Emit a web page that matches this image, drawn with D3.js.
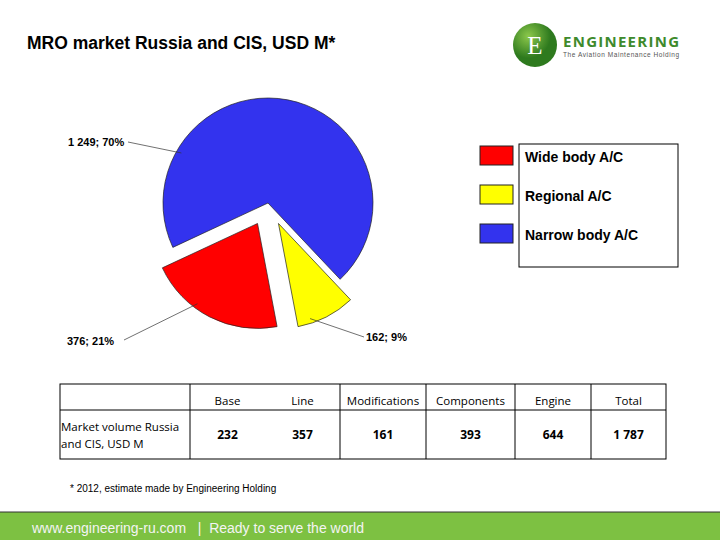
<!DOCTYPE html>
<html><head><meta charset="utf-8">
<script src="https://cdn.jsdelivr.net/npm/d3@7"></script>
<style>body{margin:0;background:#fff}svg{display:block;font-family:"Liberation Sans",Arial,sans-serif}</style>
</head><body><svg id="c" width="720" height="540"></svg>
<script>
const segments = ["Wide body A/C", "Regional A/C", "Narrow body A/C"];
const values = [376, 162, 1249];
const shares = [21, 9, 70];
const colors = ["#ff0000", "#ffff00", "#3333ee"];
const tableHeads = ["Base", "Line", "Modifications", "Components", "Engine", "Total"];
const tableValues = ["232", "357", "161", "393", "644", "1 787"];

const svg = d3.select("#c");

svg.append("text").attr("x", 27).attr("y", 49).attr("font-size", 17.5).attr("font-weight", "bold")
  .text("MRO market Russia and CIS, USD M*");

// logo
const lg = svg.append("g");
const grad = svg.append("defs").append("radialGradient").attr("id", "lg").attr("cx", "35%").attr("cy", "30%");
grad.append("stop").attr("offset", "0").attr("stop-color", "#8cc84b");
grad.append("stop").attr("offset", "1").attr("stop-color", "#2e7a1e");
lg.append("circle").attr("cx", 535).attr("cy", 45).attr("r", 22).attr("fill", "url(#lg)");
lg.append("text").attr("x", 535).attr("y", 54).attr("text-anchor", "middle").attr("fill", "#fff")
  .attr("font-size", 25).attr("font-family", "Liberation Serif").text("E");
lg.append("text").attr("x", 563).attr("y", 47).attr("fill", "#3e8a2c").attr("font-size", 15)
  .attr("font-weight", "bold").attr("font-family", "Open Sans").attr("textLength", 116).text("ENGINEERING");
lg.append("text").attr("x", 563).attr("y", 57).attr("fill", "#555").attr("font-size", 6.5)
  .attr("textLength", 116).text("The Aviation Maintenance Holding");

// pie
const cx = 268, cy = 203, R = 105, off = 23;
const pie = d3.pie().sort(null).value(d => d)
  .startAngle(-115 * Math.PI / 180).endAngle(245 * Math.PI / 180);
const order = [2, 1, 0];
const arcs = pie(order.map(i => values[i]));
const arc = d3.arc().innerRadius(0).outerRadius(R);
arcs.forEach((a, k) => {
  const i = order[k];
  const mid = (a.startAngle + a.endAngle) / 2;
  const d = i === 2 ? 0 : off;
  const ox = cx + Math.sin(mid) * d, oy = cy - Math.cos(mid) * d;
  svg.append("path").attr("d", arc(a)).attr("transform", `translate(${ox},${oy})`)
    .attr("fill", colors[i]).attr("stroke", "#222").attr("stroke-width", 0.7);
});
// labels with leader lines
const labels = [
  {i: 2, ang: -60, lx: 68, ly: 146, tx: 128, ty: 142},
  {i: 0, ang: 215, lx: 67, ly: 345, tx: 124, ty: 340},
  {i: 1, ang: 160, lx: 366, ly: 341, tx: 364, ty: 337}
];
labels.forEach(l => {
  const d = l.i === 2 ? R - 5 : R + off - 5;
  const a = l.ang * Math.PI / 180;
  const ex = cx + Math.sin(a) * d, ey = cy - Math.cos(a) * d;
  svg.append("line").attr("x1", ex).attr("y1", ey).attr("x2", l.tx).attr("y2", l.ty)
    .attr("stroke", "#333").attr("stroke-width", 0.7);
  svg.append("text").attr("x", l.lx).attr("y", l.ly).attr("font-size", 11).attr("font-weight", "bold")
    .text(values[l.i].toLocaleString("ru-RU").replace(/\s/g, " ") + "; " + shares[l.i] + "%");
});

// legend
svg.append("rect").attr("x", 519).attr("y", 144).attr("width", 159).attr("height", 123)
  .attr("fill", "none").attr("stroke", "#000");
const ly = d3.scalePoint().domain(segments).range([146, 224]);
segments.forEach((s, i) => {
  svg.append("rect").attr("x", 480).attr("y", ly(s)).attr("width", 33).attr("height", 19)
    .attr("fill", colors[i]).attr("stroke", "#222");
  svg.append("text").attr("x", 525).attr("y", ly(s) + 16).attr("font-size", 14).attr("font-weight", "bold")
    .text(s);
});

// table
const tx0 = 60, tx1 = 666, ty0 = 384, tyM = 410, ty1 = 459;
const bounds = [190, 265, 340, 426, 515, 591, 666];
const t = svg.append("g").attr("font-size", 12);
svg.append("rect").attr("x", tx0).attr("y", ty0).attr("width", tx1 - tx0).attr("height", ty1 - ty0)
  .attr("fill", "none").attr("stroke", "#000");
svg.append("line").attr("x1", tx0).attr("x2", tx1).attr("y1", tyM).attr("y2", tyM).attr("stroke", "#000");
[0, 2, 3, 4, 5].forEach(k => svg.append("line").attr("x1", bounds[k]).attr("x2", bounds[k])
  .attr("y1", ty0).attr("y2", ty1).attr("stroke", "#000"));
tableHeads.forEach((h, k) => {
  const x = (bounds[k] + bounds[k + 1]) / 2;
  t.append("text").attr("x", x).attr("y", 405).attr("text-anchor", "middle").attr("font-family", "Open Sans").attr("font-size", 11.5).text(h);
  t.append("text").attr("x", x).attr("y", 439).attr("text-anchor", "middle").attr("font-family", "Open Sans")
    .attr("font-weight", "bold").attr("font-size", 12).text(tableValues[k]);
});
t.append("text").attr("x", 61).attr("y", 431).attr("font-family", "Open Sans").attr("font-size", 11.5).text("Market volume Russia");
t.append("text").attr("x", 61).attr("y", 448).attr("font-family", "Open Sans").attr("font-size", 11.5).text("and CIS, USD M");

svg.append("text").attr("x", 70).attr("y", 492).attr("font-size", 10).text("* 2012, estimate made by Engineering  Holding");

// footer
svg.append("rect").attr("x", 0).attr("y", 512).attr("width", 720).attr("height", 28).attr("fill", "#7dc142");
svg.append("line").attr("x1", 0).attr("x2", 720).attr("y1", 512).attr("y2", 512).attr("stroke", "#333");
svg.append("text").attr("x", 32).attr("y", 533).attr("font-size", 14).attr("fill", "#f4f4f4")
  .attr("xml:space", "preserve").style("white-space", "pre")
  .text("www.engineering-ru.com   |  Ready to serve the world");
</script></body></html>
